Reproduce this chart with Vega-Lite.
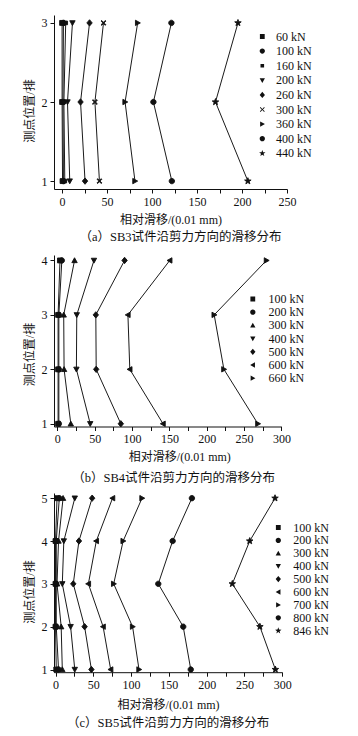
{
  "$schema": "https://vega.github.io/schema/vega-lite/v6.json",
  "background": "white",
  "padding": {"left": 23, "top": 15, "right": 5, "bottom": 5},
  "autosize": {"type": "pad"},
  "bounds": "flush",
  "spacing": 66,
  "resolve": {"scale": {"shape": "independent", "opacity": "independent", "x": "independent", "y": "independent"}, "legend": {"shape": "independent", "opacity": "independent"}},
  "config": {
    "view": {"stroke": null},
    "font": "Liberation Serif, Noto Sans CJK SC",
    "axis": {
      "grid": false,
      "domainColor": "#111",
      "domainWidth": 1,
      "tickColor": "#111",
      "tickWidth": 1,
      "tickSize": 4,
      "labelColor": "#111",
      "titleColor": "#111",
      "labelFont": "Liberation Serif",
      "titleFont": "Liberation Serif, Noto Sans CJK SC",
      "labelFontSize": 12,
      "titleFontSize": 12,
      "titleFontWeight": "normal",
      "labelPadding": 3,
      "labelFlush": false,
      "labelOverlap": false,
      "titlePadding": 5
    },
    "legend": {
      "labelFont": "Liberation Serif",
      "labelFontSize": 12,
      "labelColor": "#111",
      "padding": 0,
      "symbolStrokeWidth": 0.9,
      "symbolStrokeColor": "#111",
      "symbolFillColor": "#111"
    },
    "title": {"font": "Liberation Serif, Noto Sans CJK SC", "fontSize": 12.5, "fontWeight": "normal", "color": "#111"}
  },
  "datasets": {
    "a": [
      {"load": "60 kN", "pos": 1, "slip": 0.5}, {"load": "60 kN", "pos": 2, "slip": 0}, {"load": "60 kN", "pos": 3, "slip": 0},
      {"load": "100 kN", "pos": 1, "slip": 1.5}, {"load": "100 kN", "pos": 2, "slip": 1}, {"load": "100 kN", "pos": 3, "slip": 1.5},
      {"load": "160 kN", "pos": 1, "slip": 3}, {"load": "160 kN", "pos": 2, "slip": 2}, {"load": "160 kN", "pos": 3, "slip": 4},
      {"load": "200 kN", "pos": 1, "slip": 8.5}, {"load": "200 kN", "pos": 2, "slip": 6}, {"load": "200 kN", "pos": 3, "slip": 11.5},
      {"load": "260 kN", "pos": 1, "slip": 25.5}, {"load": "260 kN", "pos": 2, "slip": 20.5}, {"load": "260 kN", "pos": 3, "slip": 30.5},
      {"load": "300 kN", "pos": 1, "slip": 41.5}, {"load": "300 kN", "pos": 2, "slip": 36.5}, {"load": "300 kN", "pos": 3, "slip": 46},
      {"load": "360 kN", "pos": 1, "slip": 81}, {"load": "360 kN", "pos": 2, "slip": 70}, {"load": "360 kN", "pos": 3, "slip": 84},
      {"load": "400 kN", "pos": 1, "slip": 122}, {"load": "400 kN", "pos": 2, "slip": 101.5}, {"load": "400 kN", "pos": 3, "slip": 121.5},
      {"load": "440 kN", "pos": 1, "slip": 206.5}, {"load": "440 kN", "pos": 2, "slip": 170.5}, {"load": "440 kN", "pos": 3, "slip": 195.5}
    ],
    "b": [
      {"load": "100 kN", "pos": 1, "slip": 1}, {"load": "100 kN", "pos": 2, "slip": 1}, {"load": "100 kN", "pos": 3, "slip": 1}, {"load": "100 kN", "pos": 4, "slip": 3.5},
      {"load": "200 kN", "pos": 1, "slip": 2}, {"load": "200 kN", "pos": 2, "slip": 2}, {"load": "200 kN", "pos": 3, "slip": 2}, {"load": "200 kN", "pos": 4, "slip": 6},
      {"load": "300 kN", "pos": 1, "slip": 18}, {"load": "300 kN", "pos": 2, "slip": 9}, {"load": "300 kN", "pos": 3, "slip": 8.5}, {"load": "300 kN", "pos": 4, "slip": 23},
      {"load": "400 kN", "pos": 1, "slip": 44}, {"load": "400 kN", "pos": 2, "slip": 25.5}, {"load": "400 kN", "pos": 3, "slip": 26}, {"load": "400 kN", "pos": 4, "slip": 49},
      {"load": "500 kN", "pos": 1, "slip": 85}, {"load": "500 kN", "pos": 2, "slip": 52}, {"load": "500 kN", "pos": 3, "slip": 51.5}, {"load": "500 kN", "pos": 4, "slip": 90},
      {"load": "600 kN", "pos": 1, "slip": 141.5}, {"load": "600 kN", "pos": 2, "slip": 97}, {"load": "600 kN", "pos": 3, "slip": 94.5}, {"load": "600 kN", "pos": 4, "slip": 150.5},
      {"load": "660 kN", "pos": 1, "slip": 268.5}, {"load": "660 kN", "pos": 2, "slip": 223}, {"load": "660 kN", "pos": 3, "slip": 210}, {"load": "660 kN", "pos": 4, "slip": 280}
    ],
    "c": [
      {"load": "100 kN", "pos": 1, "slip": 1}, {"load": "100 kN", "pos": 2, "slip": 0}, {"load": "100 kN", "pos": 3, "slip": 0}, {"load": "100 kN", "pos": 4, "slip": 0}, {"load": "100 kN", "pos": 5, "slip": 2},
      {"load": "200 kN", "pos": 1, "slip": 4}, {"load": "200 kN", "pos": 2, "slip": 1}, {"load": "200 kN", "pos": 3, "slip": 1}, {"load": "200 kN", "pos": 4, "slip": 1}, {"load": "200 kN", "pos": 5, "slip": 5},
      {"load": "300 kN", "pos": 1, "slip": 9}, {"load": "300 kN", "pos": 2, "slip": 7.5}, {"load": "300 kN", "pos": 3, "slip": 2}, {"load": "300 kN", "pos": 4, "slip": 4}, {"load": "300 kN", "pos": 5, "slip": 10},
      {"load": "400 kN", "pos": 1, "slip": 25.5}, {"load": "400 kN", "pos": 2, "slip": 20}, {"load": "400 kN", "pos": 3, "slip": 9}, {"load": "400 kN", "pos": 4, "slip": 11}, {"load": "400 kN", "pos": 5, "slip": 25.5},
      {"load": "500 kN", "pos": 1, "slip": 47.5}, {"load": "500 kN", "pos": 2, "slip": 38.5}, {"load": "500 kN", "pos": 3, "slip": 23.5}, {"load": "500 kN", "pos": 4, "slip": 31}, {"load": "500 kN", "pos": 5, "slip": 48.5},
      {"load": "600 kN", "pos": 1, "slip": 73}, {"load": "600 kN", "pos": 2, "slip": 63}, {"load": "600 kN", "pos": 3, "slip": 43.5}, {"load": "600 kN", "pos": 4, "slip": 54}, {"load": "600 kN", "pos": 5, "slip": 75.5},
      {"load": "700 kN", "pos": 1, "slip": 110.5}, {"load": "700 kN", "pos": 2, "slip": 102}, {"load": "700 kN", "pos": 3, "slip": 77}, {"load": "700 kN", "pos": 4, "slip": 89.5}, {"load": "700 kN", "pos": 5, "slip": 114.5},
      {"load": "800 kN", "pos": 1, "slip": 179}, {"load": "800 kN", "pos": 2, "slip": 169}, {"load": "800 kN", "pos": 3, "slip": 136}, {"load": "800 kN", "pos": 4, "slip": 155}, {"load": "800 kN", "pos": 5, "slip": 180.5},
      {"load": "846 kN", "pos": 1, "slip": 291}, {"load": "846 kN", "pos": 2, "slip": 270.5}, {"load": "846 kN", "pos": 3, "slip": 234}, {"load": "846 kN", "pos": 4, "slip": 257}, {"load": "846 kN", "pos": 5, "slip": 290.5}
    ]
  },
  "vconcat": [
    {
      "width": 233,
      "height": 174,
      "data": {"name": "a"},
      "title": {"text": "（a）SB3试件沿剪力方向的滑移分布", "orient": "bottom", "anchor": "middle", "offset": 6, "dx": 10},
      "encoding": {
        "x": {
          "field": "slip", "type": "quantitative",
          "scale": {"domain": [-9, 250], "nice": false, "zero": false},
          "axis": {
            "values": [0, 25, 50, 75, 100, 125, 150, 175, 200, 225, 250],
            "labelExpr": "datum.value % 50 === 0 ? datum.label : ''",
            "title": "相对滑移/(0.01 mm)",
            "titlePadding": 7,
            "encode": {"ticks": {"y2": {"value": {"expr": "datum.value % 50 === 0 ? 4 : 2"}}}}
          }
        },
        "y": {
          "field": "pos", "type": "quantitative",
          "scale": {"domain": [0.9, 3.1], "nice": false, "zero": false},
          "axis": {
            "values": [1, 1.5, 2, 2.5, 3],
            "format": "d",
            "labelExpr": "datum.value % 1 === 0 ? datum.label : ''",
            "title": "测点位置/排",
            "titleY": 95.5,
            "encode": {"ticks": {"x2": {"value": {"expr": "datum.value % 1 === 0 ? -4 : -2"}}}}
          }
        }
      },
      "layer": [
        {
          "mark": {"type": "line", "color": "#1a1a1a", "strokeWidth": 1},
          "encoding": {"detail": {"field": "load", "type": "nominal"}, "order": {"field": "pos", "type": "quantitative"}}
        },
        {
          "mark": {"type": "point", "filled": true, "color": "#111", "fill": "#111", "stroke": "#111", "strokeWidth": 0.9, "size": 24},
          "encoding": {
            "shape": {
              "field": "load", "type": "nominal", "legend": null,
              "scale": {
                "domain": ["440 kN", "400 kN", "360 kN", "300 kN", "260 kN", "200 kN", "160 kN", "100 kN", "60 kN"],
                "range": [
                  "M0,-1.4L0.34,-0.47L1.33,-0.43L0.55,0.18L0.82,1.13L0,0.58L-0.82,1.13L-0.55,0.18L-1.33,-0.43L-0.34,-0.47Z",
                  "M-1.1,0A1.1,1.1,0,1,1,1.1,0A1.1,1.1,0,1,1,-1.1,0Z",
                  "M1.1,0L-0.9,-1.1L-0.9,1.1Z",
                  "M-1,-0.75L-0.75,-1L0,-0.25L0.75,-1L1,-0.75L0.25,0L1,0.75L0.75,1L0,0.25L-0.75,1L-1,0.75L-0.25,0Z",
                  "M0,-1.3L1.1,0L0,1.3L-1.1,0Z",
                  "M0,1.1L1.1,-0.9L-1.1,-0.9Z",
                  "M-0.75,-0.75L0.75,-0.75L0.75,0.75L-0.75,0.75Z",
                  "M-1.1,0A1.1,1.1,0,1,1,1.1,0A1.1,1.1,0,1,1,-1.1,0Z",
                  "M-1,-1L1,-1L1,1L-1,1Z"
                ]
              }
            },
            "opacity": {
              "field": "load", "type": "ordinal",
              "scale": {"domain": ["60 kN", "100 kN", "160 kN", "200 kN", "260 kN", "300 kN", "360 kN", "400 kN", "440 kN"], "range": [1, 1, 1, 1, 1, 1, 1, 1, 1]},
              "legend": {
                "title": null, "orient": "none", "legendX": 202.3, "legendY": 15.5,
                "symbolSize": 23, "labelOffset": 7.8, "rowPadding": 2.6,
                "symbolType": {"expr": "datum.value === '60 kN' ? 'M-4,0L4,0M-1,-1L1,-1L1,1L-1,1Z' : datum.value === '100 kN' ? 'M-4,0L4,0M-1.1,0A1.1,1.1,0,1,1,1.1,0A1.1,1.1,0,1,1,-1.1,0Z' : datum.value === '160 kN' ? 'M-4,0L4,0M-0.75,-0.75L0.75,-0.75L0.75,0.75L-0.75,0.75Z' : datum.value === '200 kN' ? 'M-4,0L4,0M0,1.1L1.1,-0.9L-1.1,-0.9Z' : datum.value === '260 kN' ? 'M-4,0L4,0M0,-1.3L1.1,0L0,1.3L-1.1,0Z' : datum.value === '300 kN' ? 'M-4,0L4,0M-1,-0.75L-0.75,-1L0,-0.25L0.75,-1L1,-0.75L0.25,0L1,0.75L0.75,1L0,0.25L-0.75,1L-1,0.75L-0.25,0Z' : datum.value === '360 kN' ? 'M-4,0L4,0M1.1,0L-0.9,-1.1L-0.9,1.1Z' : datum.value === '400 kN' ? 'M-4,0L4,0M-1.1,0A1.1,1.1,0,1,1,1.1,0A1.1,1.1,0,1,1,-1.1,0Z' : 'M-4,0L4,0M0,-1.4L0.34,-0.47L1.33,-0.43L0.55,0.18L0.82,1.13L0,0.58L-0.82,1.13L-0.55,0.18L-1.33,-0.43L-0.34,-0.47Z'"},
                "encode": {"symbols": {"fill": {"value": "#111"}, "stroke": {"value": "#111"}, "strokeWidth": {"value": 0.9}}}
              }
            }
          }
        }
      ]
    },
    {
      "width": 227.4,
      "height": 171.5,
      "data": {"name": "b"},
      "title": {"text": "（b）SB4试件沿剪力方向的滑移分布", "orient": "bottom", "anchor": "middle", "offset": 10, "dx": 6},
      "encoding": {
        "x": {
          "field": "slip", "type": "quantitative",
          "scale": {"domain": [-4.5, 300], "nice": false, "zero": false},
          "axis": {
            "values": [0, 25, 50, 75, 100, 125, 150, 175, 200, 225, 250, 275, 300],
            "labelExpr": "datum.value % 50 === 0 ? datum.label : ''",
            "title": "相对滑移/(0.01 mm)",
            "titleX": 125.3,
            "titlePadding": 6.5,
            "encode": {"ticks": {"y2": {"value": {"expr": "datum.value % 50 === 0 ? 4 : 2"}}}}
          }
        },
        "y": {
          "field": "pos", "type": "quantitative",
          "scale": {"domain": [0.95, 4.1], "nice": false, "zero": false},
          "axis": {
            "values": [1, 1.5, 2, 2.5, 3, 3.5, 4],
            "format": "d",
            "labelExpr": "datum.value % 1 === 0 ? datum.label : ''",
            "title": "测点位置/排",
            "titleY": 99,
            "encode": {"ticks": {"x2": {"value": {"expr": "datum.value % 1 === 0 ? -4 : -2"}}}}
          }
        }
      },
      "layer": [
        {
          "mark": {"type": "line", "color": "#1a1a1a", "strokeWidth": 1},
          "encoding": {"detail": {"field": "load", "type": "nominal"}, "order": {"field": "pos", "type": "quantitative"}}
        },
        {
          "mark": {"type": "point", "filled": true, "color": "#111", "fill": "#111", "stroke": "#111", "strokeWidth": 0.9, "size": 24},
          "encoding": {
            "shape": {
              "field": "load", "type": "nominal", "legend": null,
              "scale": {
                "domain": ["660 kN", "600 kN", "500 kN", "400 kN", "300 kN", "200 kN", "100 kN"],
                "range": [
                  "M1.1,0L-0.9,-1.1L-0.9,1.1Z",
                  "M-1.1,0L0.9,-1.1L0.9,1.1Z",
                  "M0,-1.3L1.1,0L0,1.3L-1.1,0Z",
                  "M0,1.1L1.1,-0.9L-1.1,-0.9Z",
                  "M0,-1.1L1.1,0.9L-1.1,0.9Z",
                  "M-1.1,0A1.1,1.1,0,1,1,1.1,0A1.1,1.1,0,1,1,-1.1,0Z",
                  "M-1,-1L1,-1L1,1L-1,1Z"
                ]
              }
            },
            "opacity": {
              "field": "load", "type": "ordinal",
              "scale": {"domain": ["100 kN", "200 kN", "300 kN", "400 kN", "500 kN", "600 kN", "660 kN"], "range": [1, 1, 1, 1, 1, 1, 1]},
              "legend": {
                "title": null, "orient": "none", "legendX": 192.8, "legendY": 38,
                "symbolSize": 23, "labelOffset": 9.8, "rowPadding": 1.2,
                "symbolType": {"expr": "datum.value === '100 kN' ? 'M-5,0L5,0M-1,-1L1,-1L1,1L-1,1Z' : datum.value === '200 kN' ? 'M-5,0L5,0M-1.1,0A1.1,1.1,0,1,1,1.1,0A1.1,1.1,0,1,1,-1.1,0Z' : datum.value === '300 kN' ? 'M-5,0L5,0M0,-1.1L1.1,0.9L-1.1,0.9Z' : datum.value === '400 kN' ? 'M-5,0L5,0M0,1.1L1.1,-0.9L-1.1,-0.9Z' : datum.value === '500 kN' ? 'M-5,0L5,0M0,-1.3L1.1,0L0,1.3L-1.1,0Z' : datum.value === '600 kN' ? 'M-5,0L5,0M-1.1,0L0.9,-1.1L0.9,1.1Z' : 'M-5,0L5,0M1.1,0L-0.9,-1.1L-0.9,1.1Z'"},
                "encode": {"symbols": {"fill": {"value": "#111"}, "stroke": {"value": "#111"}, "strokeWidth": {"value": 0.9}}}
              }
            }
          }
        }
      ]
    },
    {
      "width": 228.2,
      "height": 179.2,
      "data": {"name": "c"},
      "title": {"text": "（c）SB5试件沿剪力方向的滑移分布", "orient": "bottom", "anchor": "middle", "offset": 7, "dx": 0},
      "encoding": {
        "x": {
          "field": "slip", "type": "quantitative",
          "scale": {"domain": [-2, 300], "nice": false, "zero": false},
          "axis": {
            "values": [0, 25, 50, 75, 100, 125, 150, 175, 200, 225, 250, 275, 300],
            "labelExpr": "datum.value % 50 === 0 ? datum.label : ''",
            "title": "相对滑移/(0.01 mm)",
            "titlePadding": 9,
            "encode": {"ticks": {"y2": {"value": {"expr": "datum.value % 50 === 0 ? 4 : 2"}}}}
          }
        },
        "y": {
          "field": "pos", "type": "quantitative",
          "scale": {"domain": [0.937, 5.121], "nice": false, "zero": false},
          "axis": {
            "values": [1, 1.5, 2, 2.5, 3, 3.5, 4, 4.5, 5],
            "format": "d",
            "labelExpr": "datum.value % 1 === 0 ? datum.label : ''",
            "title": "测点位置/排",
            "titleY": 98.5,
            "encode": {"ticks": {"x2": {"value": {"expr": "datum.value % 1 === 0 ? -4 : -2"}}}}
          }
        }
      },
      "layer": [
        {
          "mark": {"type": "line", "color": "#1a1a1a", "strokeWidth": 1},
          "encoding": {"detail": {"field": "load", "type": "nominal"}, "order": {"field": "pos", "type": "quantitative"}}
        },
        {
          "mark": {"type": "point", "filled": true, "color": "#111", "fill": "#111", "stroke": "#111", "strokeWidth": 0.9, "size": 24},
          "encoding": {
            "shape": {
              "field": "load", "type": "nominal", "legend": null,
              "scale": {
                "domain": ["846 kN", "800 kN", "700 kN", "600 kN", "500 kN", "400 kN", "300 kN", "200 kN", "100 kN"],
                "range": [
                  "M0,-1.4L0.34,-0.47L1.33,-0.43L0.55,0.18L0.82,1.13L0,0.58L-0.82,1.13L-0.55,0.18L-1.33,-0.43L-0.34,-0.47Z",
                  "M-1.1,0A1.1,1.1,0,1,1,1.1,0A1.1,1.1,0,1,1,-1.1,0Z",
                  "M1.1,0L-0.9,-1.1L-0.9,1.1Z",
                  "M-1.1,0L0.9,-1.1L0.9,1.1Z",
                  "M0,-1.3L1.1,0L0,1.3L-1.1,0Z",
                  "M0,1.1L1.1,-0.9L-1.1,-0.9Z",
                  "M0,-1.1L1.1,0.9L-1.1,0.9Z",
                  "M-1.1,0A1.1,1.1,0,1,1,1.1,0A1.1,1.1,0,1,1,-1.1,0Z",
                  "M-1,-1L1,-1L1,1L-1,1Z"
                ]
              }
            },
            "opacity": {
              "field": "load", "type": "ordinal",
              "scale": {"domain": ["100 kN", "200 kN", "300 kN", "400 kN", "500 kN", "600 kN", "700 kN", "800 kN", "846 kN"], "range": [1, 1, 1, 1, 1, 1, 1, 1, 1]},
              "legend": {
                "title": null, "orient": "none", "legendX": 218.3, "legendY": 28.5,
                "symbolSize": 23, "labelOffset": 9, "rowPadding": 0.9,
                "symbolType": {"expr": "datum.value === '100 kN' ? 'M-5,0L5,0M-1,-1L1,-1L1,1L-1,1Z' : datum.value === '200 kN' ? 'M-5,0L5,0M-1.1,0A1.1,1.1,0,1,1,1.1,0A1.1,1.1,0,1,1,-1.1,0Z' : datum.value === '300 kN' ? 'M-5,0L5,0M0,-1.1L1.1,0.9L-1.1,0.9Z' : datum.value === '400 kN' ? 'M-5,0L5,0M0,1.1L1.1,-0.9L-1.1,-0.9Z' : datum.value === '500 kN' ? 'M-5,0L5,0M0,-1.3L1.1,0L0,1.3L-1.1,0Z' : datum.value === '600 kN' ? 'M-5,0L5,0M-1.1,0L0.9,-1.1L0.9,1.1Z' : datum.value === '700 kN' ? 'M-5,0L5,0M1.1,0L-0.9,-1.1L-0.9,1.1Z' : datum.value === '800 kN' ? 'M-5,0L5,0M-1.1,0A1.1,1.1,0,1,1,1.1,0A1.1,1.1,0,1,1,-1.1,0Z' : 'M-5,0L5,0M0,-1.4L0.34,-0.47L1.33,-0.43L0.55,0.18L0.82,1.13L0,0.58L-0.82,1.13L-0.55,0.18L-1.33,-0.43L-0.34,-0.47Z'"},
                "encode": {"symbols": {"fill": {"value": "#111"}, "stroke": {"value": "#111"}, "strokeWidth": {"value": 0.9}}}
              }
            }
          }
        }
      ]
    }
  ]
}
